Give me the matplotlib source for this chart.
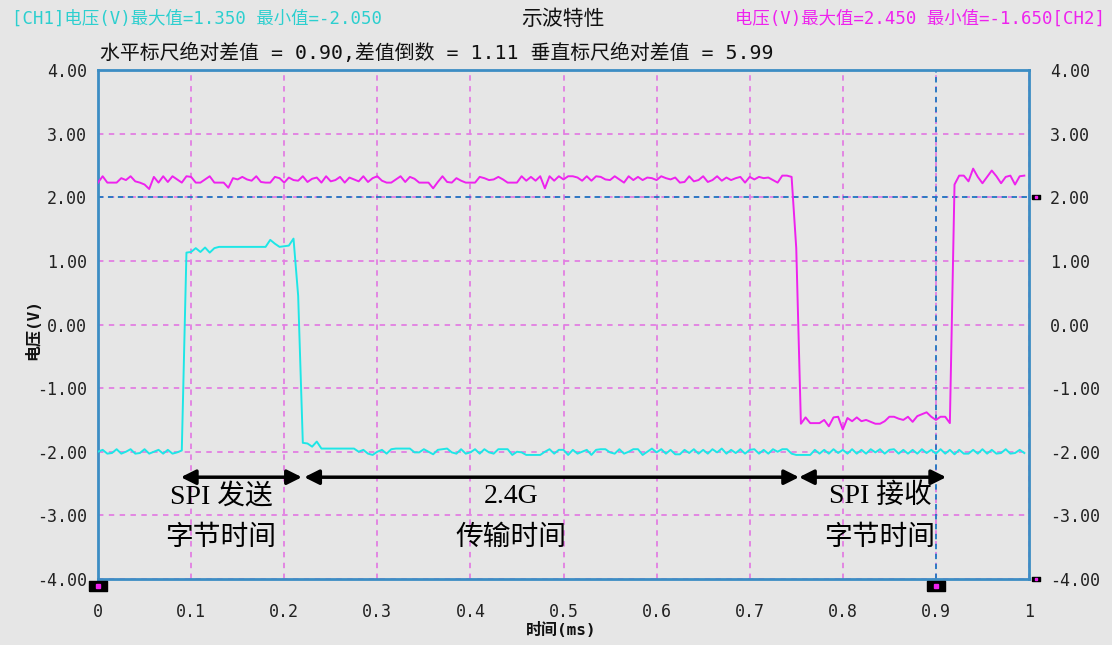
import numpy as np
import matplotlib
matplotlib.use('Agg')
import matplotlib.pyplot as plt

# oscilloscope samples, one every 0.005 ms
sample_step = 0.005

ch1_volts = [
    -2.00, -1.97, -2.03, -2.02, -1.96, -2.03, -2.00, -1.96, -2.03, -2.02,
    -1.96, -2.03, -2.00, -1.97, -2.03, -1.97, -2.03, -2.01, -1.98, 1.13,
    1.14, 1.20, 1.14, 1.21, 1.13, 1.20, 1.22, 1.22, 1.22, 1.22,
    1.22, 1.22, 1.22, 1.22, 1.22, 1.22, 1.22, 1.33, 1.27, 1.22,
    1.23, 1.24, 1.35, 0.45, -1.86, -1.87, -1.92, -1.84, -1.95, -1.95,
    -1.95, -1.95, -1.95, -1.95, -1.95, -1.95, -2.00, -1.97, -2.03, -2.05,
    -2.00, -1.97, -2.03, -1.96, -1.95, -1.95, -1.95, -1.95, -2.01, -2.01,
    -1.96, -2.00, -2.04, -1.97, -1.96, -1.95, -2.01, -2.03, -1.96, -2.03,
    -2.01, -1.96, -2.03, -1.96, -2.01, -2.03, -1.96, -1.96, -1.96, -2.05,
    -2.00, -2.01, -2.05, -2.05, -2.05, -2.05, -2.00, -1.96, -2.03, -1.97,
    -1.97, -2.05, -1.97, -2.03, -2.00, -1.97, -2.05, -1.97, -1.96, -1.96,
    -2.01, -2.03, -1.96, -2.03, -2.00, -1.96, -1.96, -2.05, -2.00, -1.95,
    -2.01, -1.96, -2.03, -1.97, -2.04, -2.04, -1.97, -2.02, -1.96, -2.03,
    -1.97, -2.03, -1.96, -2.01, -1.95, -2.03, -1.97, -2.02, -1.96, -2.03,
    -1.97, -1.96, -2.03, -1.97, -2.03, -1.96, -2.00, -1.96, -1.96, -2.03,
    -2.05, -2.05, -2.05, -2.05, -1.97, -2.03, -1.97, -2.03, -1.96, -2.02,
    -1.97, -2.03, -1.96, -2.03, -1.97, -2.03, -1.96, -2.01, -1.96, -2.03,
    -1.97, -1.96, -2.03, -1.97, -2.03, -1.97, -2.03, -1.96, -2.02, -1.97,
    -2.03, -1.96, -2.03, -1.97, -2.04, -1.97, -2.03, -2.03, -1.97, -2.03,
    -1.96, -2.03, -1.97, -2.03, -2.02, -1.96, -2.03, -2.02, -1.97, -2.02,
]

ch2_volts = [
    2.23, 2.33, 2.23, 2.23, 2.23, 2.30, 2.27, 2.33, 2.25, 2.23,
    2.20, 2.13, 2.32, 2.23, 2.33, 2.24, 2.33, 2.28, 2.23, 2.33,
    2.32, 2.23, 2.23, 2.28, 2.33, 2.23, 2.23, 2.23, 2.15, 2.30,
    2.28, 2.32, 2.28, 2.26, 2.33, 2.24, 2.23, 2.23, 2.32, 2.30,
    2.23, 2.31, 2.27, 2.26, 2.33, 2.24, 2.29, 2.31, 2.23, 2.33,
    2.25, 2.27, 2.32, 2.23, 2.31, 2.28, 2.25, 2.33, 2.24, 2.30,
    2.33, 2.26, 2.23, 2.23, 2.28, 2.33, 2.24, 2.32, 2.29, 2.23,
    2.23, 2.23, 2.14, 2.24, 2.33, 2.24, 2.23, 2.30, 2.26, 2.23,
    2.23, 2.23, 2.32, 2.30, 2.27, 2.28, 2.32, 2.28, 2.23, 2.23,
    2.23, 2.33, 2.26, 2.32, 2.26, 2.33, 2.14, 2.33, 2.26, 2.33,
    2.28, 2.33, 2.33, 2.31, 2.26, 2.33, 2.26, 2.33, 2.32, 2.28,
    2.27, 2.33, 2.28, 2.23, 2.33, 2.27, 2.32, 2.27, 2.31, 2.30,
    2.27, 2.33, 2.30, 2.28, 2.31, 2.23, 2.24, 2.33, 2.25, 2.27,
    2.33, 2.24, 2.27, 2.33, 2.26, 2.31, 2.27, 2.30, 2.32, 2.23,
    2.32, 2.28, 2.32, 2.30, 2.31, 2.27, 2.23, 2.34, 2.34, 2.32,
    1.20, -1.56, -1.46, -1.55, -1.55, -1.55, -1.50, -1.60, -1.46, -1.45,
    -1.65, -1.47, -1.52, -1.46, -1.52, -1.50, -1.53, -1.56, -1.56, -1.52,
    -1.45, -1.45, -1.48, -1.50, -1.45, -1.53, -1.44, -1.41, -1.38, -1.45,
    -1.50, -1.45, -1.45, -1.55, 2.20, 2.34, 2.34, 2.25, 2.45, 2.32,
    2.22, 2.32, 2.42, 2.33, 2.22, 2.32, 2.34, 2.20, 2.33, 2.34,
]

x_ticks = [0, 0.1, 0.2, 0.3, 0.4, 0.5, 0.6, 0.7, 0.8, 0.9, 1.0]
x_tick_labels = ['0', '0.1', '0.2', '0.3', '0.4', '0.5', '0.6', '0.7', '0.8', '0.9', '1']
y_ticks = [-4, -3, -2, -1, 0, 1, 2, 3, 4]
y_tick_labels = ['%.2f' % v for v in y_ticks]

cursor_t = [0.0, 0.9]
cursor_v = [2.0, -4.0]

spans = [(0.089, 0.219), (0.2215, 0.753), (0.753, 0.911)]
span_level = -2.40
span_top = ['SPI 发送', '2.4G', 'SPI 接收']
span_bottom = ['字节时间', '传输时间', '字节时间']
label_t = [0.132, 0.444, 0.840]

head_left = '[CH1]电压(V)最大值=1.350 最小值=-2.050'
head_mid = '示波特性'
head_right = '电压(V)最大值=2.450 最小值=-1.650[CH2]'
head_cursor = '水平标尺绝对差值 = 0.90,差值倒数 = 1.11 垂直标尺绝对差值 = 5.99'

bg = '#e6e6e6'
frame = '#3c8dc4'
cyan = '#1ee6e6'
magenta = '#ee22ee'
grid_col = '#e27ee2'
cursor_col = '#1f78c0'

plt.rcParams['font.family'] = ['DejaVu Sans Mono', 'Noto Sans CJK SC']

W, H = 1112, 645
fig = plt.figure(figsize=(W / 100, H / 100), dpi=100, facecolor=bg)
ax = fig.add_axes([98 / W, 1 - 579 / H, 931 / W, 509 / H])
ax.set_facecolor(bg)

t1 = np.arange(len(ch1_volts)) * sample_step
t2 = np.arange(len(ch2_volts)) * sample_step

ax.set_xlim(0, 1)
ax.set_ylim(-4, 4)
ax.set_xticks(x_ticks)
ax.set_xticklabels(x_tick_labels)
ax.set_yticks(y_ticks)
ax.set_yticklabels(y_tick_labels)
ax.tick_params(length=0, labelsize=12, labelcolor='#222222')
ax.tick_params(axis='x', pad=17)
ax.tick_params(axis='y', pad=8)
ax.grid(True, color=grid_col, linestyle=(0, (3, 3)), linewidth=1.3, zorder=1)
for s in ax.spines.values():
    s.set_color(frame)
    s.set_linewidth(2)

right = ax.secondary_yaxis('right')
right.set_yticks(y_ticks)
right.set_yticklabels(y_tick_labels)
right.tick_params(length=0, labelsize=12, labelcolor='#222222', pad=15)
right.spines['right'].set_visible(False)

# cursors
ax.axhline(cursor_v[0], color=cursor_col, linestyle=(0, (3, 2.5)), linewidth=1.3, zorder=2)
ax.axvline(cursor_t[1], color=cursor_col, linestyle=(0, (3, 2.5)), linewidth=1.3, zorder=2)

ax.plot(t1, ch1_volts, color=cyan, linewidth=1.4, zorder=3)
ax.plot(t2, ch2_volts, color=magenta, linewidth=1.4, zorder=4)

box = [(-1, -0.55), (1, -0.55), (1, 0.55), (-1, 0.55), (-1, -0.55)]
ax.plot(cursor_t, [-0.014] * len(cursor_t), transform=ax.get_xaxis_transform(),
        linestyle='none', marker=box, markersize=13, color='black', clip_on=False, zorder=6)
ax.plot(cursor_t, [-0.014] * len(cursor_t), transform=ax.get_xaxis_transform(),
        linestyle='none', marker='s', markersize=2.5, color=magenta, clip_on=False, zorder=7)
ax.plot([1.0075] * len(cursor_v), cursor_v, transform=ax.get_yaxis_transform(),
        linestyle='none', marker=box, markersize=6, color='black', clip_on=False, zorder=6)
ax.plot([1.0075] * len(cursor_v), cursor_v, transform=ax.get_yaxis_transform(),
        linestyle='none', marker='s', markersize=2, color=magenta, clip_on=False, zorder=7)

ann_font = ['Liberation Serif', 'Noto Sans CJK SC']
for (a, b), top, bottom, lt in zip(spans, span_top, span_bottom, label_t):
    ax.annotate('', xy=(b, span_level), xytext=(a, span_level),
                arrowprops=dict(arrowstyle='<|-|>', color='black', lw=2.5,
                                mutation_scale=22, shrinkA=0, shrinkB=0), zorder=5)
    ax.text(lt, -2.70, top, ha='center', va='center', fontsize=20,
            family=ann_font, zorder=5)
    ax.text(lt, -3.36, bottom, ha='center', va='center', fontsize=20,
            family=ann_font, zorder=5)

fig.text(12 / W, 1 - 19 / H, head_left, color='#2ccfcf', fontsize=12.5, va='center', ha='left')
fig.text(563 / W, 1 - 19 / H, head_mid, color='#111111', fontsize=15, va='center', ha='center')
fig.text(1105 / W, 1 - 19 / H, head_right, color=magenta, fontsize=12.5, va='center', ha='right')
fig.text(100 / W, 1 - 53 / H, head_cursor, color='#111111', fontsize=14.3, va='center', ha='left')

fig.text(33 / W, 1 - 330 / H, '电压(V)', rotation=90, fontsize=11.5, va='center', ha='center',
         color='#111111', weight='bold')
fig.text(561 / W, 1 - 630 / H, '时间(ms)', fontsize=11.5, va='center', ha='center',
         color='#111111', weight='bold')

fig.savefig('out.png', dpi=100, facecolor=bg)
